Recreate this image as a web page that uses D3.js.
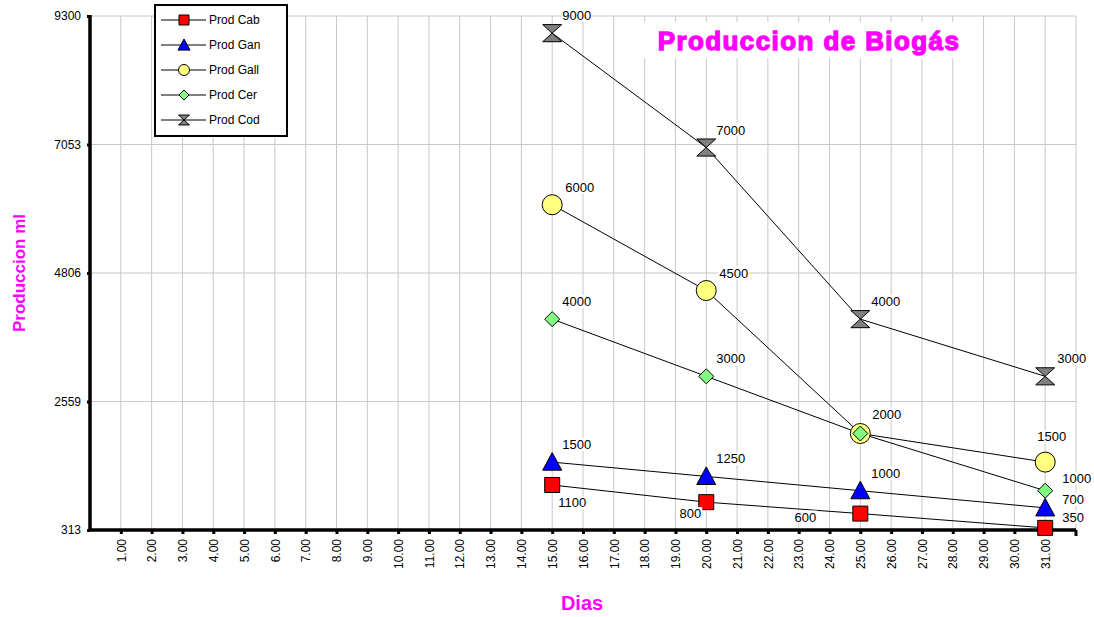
<!DOCTYPE html>
<html>
<head>
<meta charset="utf-8">
<script src="https://cdn.jsdelivr.net/npm/d3@7"></script>
<style>
  html, body { margin: 0; padding: 0; background: #fff; }
  svg { display: block; font-family: "Liberation Sans", Arial, sans-serif; }
</style>
</head>
<body>
<svg id="chart" width="1094" height="617"></svg>
<script>
// Days on which gas was measured
const dias = [15, 20, 25, 31];

// Biogas production (ml) per substrate
const prodCab  = [1100, 800, 600, 350];
const prodGan  = [1500, 1250, 1000, 700];
const prodGall = [6000, 4500, 2000, 1500];
const prodCer  = [4000, 3000, 2000, 1000];
const prodCod  = [9000, 7000, 4000, 3000];

// Axis ticks
const xTicks = d3.range(1, 32);
const yTicks = [313, 2559, 4806, 7053, 9300];

const seriesNames = ["Prod Cab", "Prod Gan", "Prod Gall", "Prod Cer", "Prod Cod"];

// Label placement for each point: [dx, dy, anchor] relative to the marker, null = no label
const labelPlacement = {
  "Prod Cab":  [[6, 22, "start"], [-5, 16, "end"], [-44, 8, "end"], [17, -6, "start"]],
  "Prod Gan":  [[10, -13, "start"], [10, -13, "start"], [11, -13, "start"], [17, -4, "start"]],
  "Prod Gall": [[13, -13, "start"], [13, -13, "start"], [12, -15, "start"], [-8, -21, "start"]],
  "Prod Cer":  [[10, -13, "start"], [10, -13, "start"], null, [17, -8, "start"]],
  "Prod Cod":  [[10, -13, "start"], [10, -13, "start"], [11, -13, "start"], [12, -13, "start"]]
};

const series = [
  { name: seriesNames[0], values: prodCab,  shape: "square",    fill: "#ff0000" },
  { name: seriesNames[1], values: prodGan,  shape: "triangle",  fill: "#0000ff" },
  { name: seriesNames[2], values: prodGall, shape: "circle",    fill: "#ffff80" },
  { name: seriesNames[3], values: prodCer,  shape: "diamond",   fill: "#80ff80" },
  { name: seriesNames[4], values: prodCod,  shape: "hourglass", fill: "#808080" }
];

const svg = d3.select("#chart");
const plotLeft = 90, plotRight = 1076, plotTop = 16, plotBottom = 530;

const x = d3.scaleLinear().domain([0, 32]).range([plotLeft, plotRight]);
const y = d3.scaleLinear().domain([313, 9300]).range([plotBottom, plotTop]);

// marker path generators, centred on 0,0
function markerPath(shape, s) {
  const h = s / 2;
  switch (shape) {
    case "square":   return `M${-h},${-h}H${h}V${h}H${-h}Z`;
    case "triangle": return `M0,${-h}L${h},${h * 0.85}L${-h},${h * 0.85}Z`;
    case "diamond":  return `M0,${-h}L${h},0L0,${h}L${-h},0Z`;
    case "hourglass":return `M${-h},${-h * 0.9}H${h}L${-h},${h * 0.9}H${h}Z`;
    case "circle":   return `M${h},0A${h},${h} 0 1,1 ${-h},0A${h},${h} 0 1,1 ${h},0Z`;
  }
}
const markerSize = { square: 15, triangle: 19, circle: 20, diamond: 15, hourglass: 19 };

// grid
const grid = svg.append("g");
grid.selectAll("line.v").data(xTicks.concat([32])).join("line")
  .attr("x1", d => x(d)).attr("x2", d => x(d))
  .attr("y1", plotTop).attr("y2", plotBottom)
  .attr("stroke", "#c8c8c8").attr("stroke-width", 1);
grid.selectAll("line.h").data(yTicks).join("line")
  .attr("x1", plotLeft).attr("x2", plotRight)
  .attr("y1", d => y(d)).attr("y2", d => y(d))
  .attr("stroke", "#c8c8c8").attr("stroke-width", 1);

// title with white backing
const titleG = svg.append("g");
titleG.append("rect").attr("x", 642).attr("y", 22).attr("width", 334).attr("height", 36).attr("fill", "#fff");
titleG.append("text")
  .attr("x", 809).attr("y", 50)
  .attr("text-anchor", "middle")
  .attr("font-size", 26).attr("font-weight", "bold")
  .attr("letter-spacing", 1.4)
  .attr("fill", "#ff00ff").attr("stroke", "#ff00ff").attr("stroke-width", 1.3)
  .text("Produccion de Biogás");

// axes
const xAxis = d3.axisBottom(x).tickValues(xTicks).tickSize(4).tickFormat(d3.format(".2f"));
const gx = svg.append("g").attr("transform", `translate(0,${plotBottom})`).call(xAxis);
gx.select(".domain").attr("stroke", "#000").attr("stroke-width", 3.5).attr("d", `M${plotLeft - 1},0H${plotRight}`);
gx.selectAll(".tick line").attr("stroke", "#000").attr("stroke-width", 3);
gx.selectAll(".tick text")
  .attr("font-family", "Liberation Sans, Arial, sans-serif")
  .attr("font-size", 12).attr("fill", "#000")
  .attr("text-anchor", "end")
  .attr("transform", "rotate(-90)")
  .attr("x", -9).attr("y", 0).attr("dy", "0.35em");
svg.append("line").attr("x1", plotRight).attr("x2", plotRight).attr("y1", plotBottom).attr("y2", plotBottom + 6)
  .attr("stroke", "#000").attr("stroke-width", 3);

const yAxis = d3.axisLeft(y).tickValues(yTicks).tickSize(3).tickFormat(d3.format("d"));
const gy = svg.append("g").attr("transform", `translate(${plotLeft},0)`).call(yAxis);
gy.select(".domain").attr("stroke", "#000").attr("stroke-width", 3.5).attr("d", `M0,${plotTop - 1}V${plotBottom + 1}`);
gy.selectAll(".tick line").attr("stroke", "#000").attr("stroke-width", 3);
gy.selectAll(".tick text")
  .attr("font-family", "Liberation Sans, Arial, sans-serif")
  .attr("font-size", 12).attr("fill", "#000").attr("x", -9);

// axis titles
svg.append("text").attr("x", 582).attr("y", 610).attr("text-anchor", "middle")
  .attr("font-size", 20).attr("font-weight", "bold").attr("fill", "#ff00ff").text("Dias");
svg.append("text").attr("transform", "translate(25,273) rotate(-90)").attr("text-anchor", "middle")
  .attr("font-size", 17).attr("font-weight", "bold").attr("fill", "#ff00ff").text("Produccion ml");

// lines
const line = d3.line().x((d, i) => x(dias[i])).y(d => y(d));
svg.append("g").selectAll("path").data(series).join("path")
  .attr("d", s => line(s.values))
  .attr("fill", "none").attr("stroke", "#000").attr("stroke-width", 1);

// markers
series.forEach(s => {
  svg.append("g").selectAll("path").data(s.values).join("path")
    .attr("transform", (d, i) => `translate(${x(dias[i])},${y(d)})`)
    .attr("d", markerPath(s.shape, markerSize[s.shape]))
    .attr("fill", s.fill).attr("stroke", "#000").attr("stroke-width", 1);
});

// value labels with white backing
const labelG = svg.append("g");
series.forEach(s => {
  s.values.forEach((v, i) => {
    const p = labelPlacement[s.name][i];
    if (!p) return;
    const g = labelG.append("g");
    const t = g.append("text")
      .attr("x", x(dias[i]) + p[0]).attr("y", y(v) + p[1])
      .attr("text-anchor", p[2])
      .attr("font-size", 13).attr("fill", "#000")
      .text(v);
    const bb = t.node().getBBox();
    g.insert("rect", "text").attr("x", bb.x - 1).attr("y", bb.y + 1)
      .attr("width", bb.width + 2).attr("height", bb.height - 2).attr("fill", "#fff");
  });
});

// legend
const lg = svg.append("g");
lg.append("rect").attr("x", 155).attr("y", 5).attr("width", 132).attr("height", 131)
  .attr("fill", "#fff").attr("stroke", "#000").attr("stroke-width", 2);
const legendSize = { square: 10, triangle: 12, circle: 11, diamond: 10, hourglass: 11 };
series.forEach((s, i) => {
  const ly = 20 + i * 25;
  lg.append("line").attr("x1", 161).attr("x2", 206).attr("y1", ly).attr("y2", ly)
    .attr("stroke", "#000").attr("stroke-width", 1);
  lg.append("path").attr("transform", `translate(184,${ly})`)
    .attr("d", markerPath(s.shape, legendSize[s.shape]))
    .attr("fill", s.fill).attr("stroke", "#000").attr("stroke-width", 1);
  lg.append("text").attr("x", 209).attr("y", ly).attr("dy", "0.35em")
    .attr("font-size", 12).attr("fill", "#000").text(s.name);
});
</script>
</body>
</html>
